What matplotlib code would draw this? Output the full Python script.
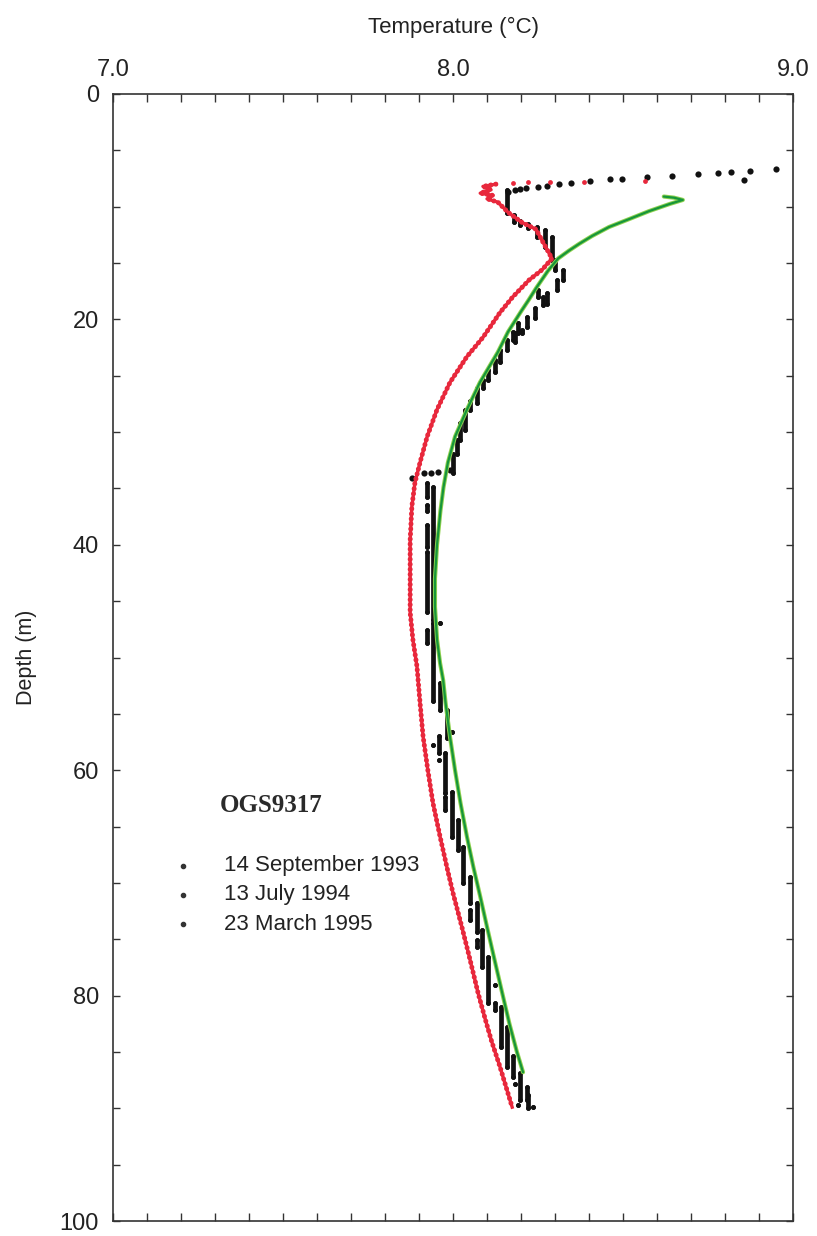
import matplotlib
matplotlib.use("Agg")
import matplotlib.pyplot as plt
from matplotlib.ticker import MultipleLocator, FixedLocator

plt.rcParams['font.family'] = ['Liberation Sans', 'DejaVu Sans']

# ---------------- data ----------------
# 14 September 1993 : near-surface scattered readings (temperature degC, depth m)
sep93_surf_T = [8.95, 8.874, 8.856, 8.818, 8.779, 8.721, 8.644, 8.571, 8.497, 8.462,
                8.403, 8.347, 8.312, 8.276, 8.25, 8.215, 8.197, 8.182, 8.162,
                7.880, 7.915, 7.935, 7.956, 7.991]
sep93_surf_D = [6.65, 6.83, 7.63, 6.92, 7.01, 7.10, 7.28, 7.36, 7.54, 7.54,
                7.72, 7.90, 7.99, 8.16, 8.25, 8.34, 8.43, 8.52, 8.70,
                34.1, 33.6, 33.6, 33.5, 33.4]
# 14 September 1993 : runs of readings at one (quantised) temperature
sep93_T = [8.159, 8.180, 8.197, 8.221, 8.247, 8.271, 8.291, 8.300, 8.324, 8.306,
           8.276, 8.250, 8.265, 8.241, 8.218, 8.191, 8.176, 8.203, 8.182, 8.159,
           8.138, 8.124, 8.103, 8.088, 8.071, 8.050, 8.035, 8.021, 8.012, 8.000,
           7.924, 7.924, 7.924, 7.924, 7.941, 7.962, 7.924, 7.941, 7.962, 7.982,
           7.997, 7.959, 7.941, 7.959, 7.976, 7.976, 7.997, 8.015, 8.030, 8.050,
           8.050, 8.071, 8.071, 8.085, 8.103, 8.124, 8.124, 8.141, 8.159, 8.176,
           8.197, 8.218, 8.182, 8.191, 8.221, 8.235]
sep93_top = [8.5, 10.7, 11.3, 11.5, 11.8, 12.1, 12.7, 14.7, 15.6, 16.5,
             17.7, 17.4, 18.0, 19.0, 19.8, 20.3, 21.1, 20.9, 21.2, 21.8,
             22.7, 23.6, 24.5, 25.4, 26.1, 27.2, 28.0, 29.2, 30.7, 31.9,
             34.5, 36.5, 38.2, 40.6, 34.9, 46.9, 47.6, 46.9, 52.3, 54.7,
             56.6, 57.0, 57.8, 59.1, 58.5, 62.4, 61.9, 64.4, 66.8, 69.5,
             72.4, 71.8, 75.1, 74.2, 76.6, 79.1, 80.7, 81.0, 82.8, 85.4,
             86.9, 88.1, 87.8, 89.7, 88.8, 89.9]
sep93_bot = [10.6, 11.4, 11.6, 11.9, 12.7, 13.6, 14.7, 15.6, 16.5, 17.4,
             18.6, 18.0, 18.7, 19.9, 20.7, 21.2, 21.8, 21.2, 22.0, 22.7,
             23.8, 24.7, 25.4, 26.1, 27.4, 28.0, 29.8, 30.7, 31.9, 33.6,
             35.8, 37.0, 40.2, 46.0, 46.7, 46.9, 48.7, 53.9, 54.7, 57.1,
             56.6, 58.5, 57.8, 59.1, 62.0, 63.5, 65.9, 67.1, 70.0, 71.8,
             73.3, 74.4, 75.7, 77.5, 80.7, 79.1, 81.3, 84.6, 86.3, 87.2,
             89.3, 89.3, 87.8, 89.7, 90.0, 89.9]

# 13 July 1994
jul94_surf_T = [8.176, 8.221, 8.285, 8.385, 8.565]
jul94_surf_D = [7.9, 7.8, 7.8, 7.8, 7.7]
jul94_T = [8.126, 8.088, 8.112, 8.080, 8.118, 8.100, 8.132, 8.162, 8.203, 8.244,
           8.262, 8.291, 8.262, 8.224, 8.176, 8.138, 8.088, 8.041, 7.991, 7.953,
           7.924, 7.903, 7.888, 7.879, 7.874, 7.874, 7.874, 7.874, 7.882, 7.894,
           7.903, 7.912, 7.926, 7.941, 7.962, 7.982, 8.000, 8.026, 8.050, 8.074,
           8.094, 8.113, 8.138, 8.155, 8.174]
jul94_D = [8.0, 8.2, 8.5, 8.8, 9.0, 9.3, 9.6, 10.5, 11.4, 12.0,
           13.0, 14.6, 15.6, 16.5, 18.0, 19.4, 21.6, 23.3, 25.6, 28.0,
           30.4, 32.7, 34.5, 36.6, 39.6, 42.5, 44.0, 46.0, 48.4, 50.8,
           54.0, 57.0, 60.0, 62.9, 65.9, 68.6, 70.9, 73.9, 76.8, 79.8,
           82.0, 84.0, 86.3, 88.0, 89.9]

# 23 March 1995
mar95_T = [8.62, 8.65, 8.676, 8.638, 8.576, 8.518, 8.459, 8.409, 8.371, 8.341,
           8.309, 8.279, 8.245, 8.222, 8.200, 8.162, 8.132, 8.079, 8.041, 8.006,
           7.985, 7.972, 7.963, 7.953, 7.947, 7.947, 7.953, 7.962, 7.971, 7.978,
           7.991, 8.006, 8.022, 8.041, 8.060, 8.080, 8.100, 8.122, 8.145, 8.166,
           8.188, 8.206]
mar95_D = [9.1, 9.2, 9.4, 9.75, 10.4, 11.1, 11.8, 12.6, 13.3, 13.9,
           14.6, 15.7, 17.2, 18.3, 19.3, 21.1, 22.9, 25.6, 28.0, 30.4,
           32.7, 34.9, 37.0, 40.0, 43.0, 45.5, 48.4, 50.5, 52.0, 54.0,
           57.0, 60.0, 62.9, 65.9, 68.6, 71.2, 73.9, 76.8, 79.8, 82.5,
           85.0, 86.8]

series_labels = ["14 September 1993", "13 July 1994", "23 March 1995"]
site_name = "OGS9317"

# ---------------- figure ----------------
fig = plt.figure(figsize=(8.17, 12.36), dpi=100)
ax = fig.add_axes([113 / 817, 1 - 1221 / 1236, 680 / 817, 1127 / 1236])

# March 1995 (green smooth line)
ax.plot(mar95_T, mar95_D, color='#8fd14f', lw=3.0, solid_capstyle='round',
        solid_joinstyle='round', zorder=3)
ax.plot(mar95_T, mar95_D, color='#16963a', lw=1.6, solid_capstyle='round',
        solid_joinstyle='round', zorder=4)

# July 1994 (red beaded line)
ax.plot(jul94_T, jul94_D, color='#e8283c', lw=2.4, solid_joinstyle='round', zorder=2)
ax.plot(jul94_T, jul94_D, color='#e8283c', lw=3.6, linestyle=(0, (0.01, 1.0)),
        dash_capstyle='round', zorder=2)
ax.scatter(jul94_surf_T, jul94_surf_D, s=12, color='#e8283c', zorder=2, linewidths=0)

# September 1993 (black dots)
ax.vlines(sep93_T, sep93_top, sep93_bot, colors='#111111', lw=3.4,
          capstyle='round', zorder=1)
ax.scatter(sep93_T, sep93_top, s=12, color='#111111', linewidths=0, zorder=1)
ax.scatter(sep93_T, sep93_bot, s=12, color='#111111', linewidths=0, zorder=1)
ax.scatter(sep93_surf_T, sep93_surf_D, s=20, color='#111111', linewidths=0, zorder=1)

# axes
ax.set_xlim(7.0, 9.0)
ax.set_ylim(100, 0)
ax.xaxis.tick_top()
ax.xaxis.set_label_position('top')
ax.xaxis.set_major_locator(FixedLocator([7.0, 8.0, 9.0]))
ax.xaxis.set_minor_locator(MultipleLocator(0.1))
ax.set_xticklabels(['7.0', '8.0', '9.0'])
ax.yaxis.set_major_locator(MultipleLocator(20))
ax.yaxis.set_minor_locator(MultipleLocator(5))
ax.tick_params(axis='both', which='both', direction='in', top=True, bottom=True,
               left=True, right=True, color='#333333', width=1.0)
ax.tick_params(axis='x', which='both', length=6, labelsize=17, pad=9,
               labeltop=True, labelbottom=False, labelcolor='#222222')
ax.tick_params(axis='y', which='both', length=5, labelsize=17, pad=10,
               labelcolor='#222222')
for s in ax.spines.values():
    s.set_color('#333333')
    s.set_linewidth(1.2)

ax.set_xlabel('Temperature (°C)', fontsize=16, color='#222222')
ax.xaxis.set_label_coords(0.5, 1.054)
ax.set_ylabel('Depth (m)', fontsize=15.5, color='#222222')
ax.yaxis.set_label_coords(-0.112, 0.5)

# site name and key
ax.text(0.157, 0.369, site_name, transform=ax.transAxes, fontsize=18,
        fontweight='bold', family=['Liberation Serif', 'DejaVu Serif'],
        color='#2a2a2a', va='center', ha='left')
key_y = [0.315, 0.2893, 0.2635]
for lab, yy in zip(series_labels, key_y):
    ax.plot([0.1029], [yy], transform=ax.transAxes, marker='o', ms=3,
            color='#333333', linestyle='none')
    ax.text(0.1632, yy, lab, transform=ax.transAxes, fontsize=16,
            color='#222222', va='center', ha='left')

fig.savefig('out.png', dpi=100)
